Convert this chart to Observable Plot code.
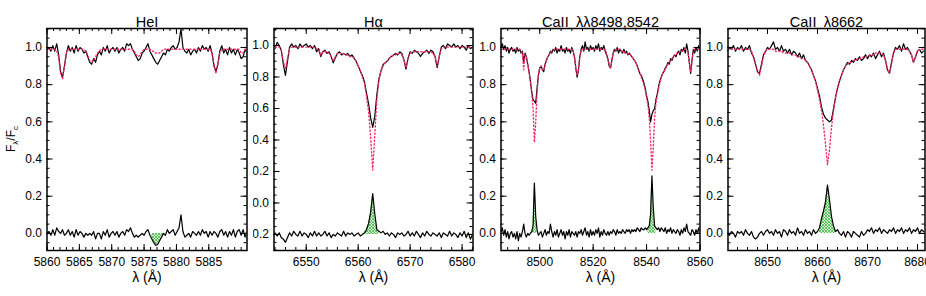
<!DOCTYPE html>
<html><head><meta charset="utf-8">
<script src="https://cdn.jsdelivr.net/npm/d3@7"></script>
<script src="https://cdn.jsdelivr.net/npm/@observablehq/plot@0.6"></script>
<style>
html,body{margin:0;padding:0;background:#fff;}
#chart{position:relative;width:926px;height:296px;overflow:hidden;background:#fff;}
</style></head><body><div id="chart"></div>
<script>
// ---------- Panel titles and tick labels ----------
const titles = ["HeI", "Hα", "CaII\u2002λλ8498,8542", "CaII\u2002λ8662"];
const xLabel = "λ (Å)";
const heXTicks = [5860, 5865, 5870, 5875, 5880, 5885];
const haXTicks = [6550, 6560, 6570, 6580];
const ca1XTicks = [8500, 8520, 8540, 8560];
const ca2XTicks = [8650, 8660, 8670, 8680];
const yTicksMain = [0.0, 0.2, 0.4, 0.6, 0.8, 1.0];
const yTicksHa = [-0.2, 0.0, 0.2, 0.4, 0.6, 0.8, 1.0];

// ---------- HeI (grid 5860.0 + 0.3*i) ----------
const heStart = 5860.0, heStep = 0.3;
const heObs = [
0.99,1.00,0.98,1.01,0.98,1.02,0.96,0.87,0.84,0.90,
0.97,1.01,0.98,1.00,0.97,1.01,0.98,1.00,0.99,0.97,
0.98,0.95,0.92,0.91,0.94,0.92,0.96,0.98,0.96,1.00,
0.98,1.01,0.97,0.99,1.00,0.98,1.00,0.97,0.99,1.00,
0.98,1.02,1.01,1.02,0.99,0.97,0.95,0.93,0.94,0.97,
0.98,1.00,1.02,0.98,0.96,0.94,0.92,0.91,0.93,0.95,
0.97,0.96,0.99,0.98,1.00,1.01,0.99,1.00,1.03,1.10,
1.00,0.98,0.97,0.99,0.96,0.98,0.99,0.97,1.00,0.98,
1.01,0.99,1.00,0.98,1.01,0.97,0.90,0.87,0.91,0.98,
1.01,0.97,0.99,0.96,1.00,0.97,0.99,0.96,0.99,0.97,
0.94,0.95,0.99,0.97];
const heSyn = [
0.99,0.99,0.99,0.99,0.99,0.98,0.95,0.86,0.83,0.90,
0.97,0.99,0.99,0.99,0.99,0.99,0.99,0.99,0.99,0.99,
0.98,0.96,0.93,0.92,0.93,0.95,0.97,0.98,0.99,0.99,
0.99,0.99,0.99,0.99,0.99,0.99,0.99,0.99,0.99,0.99,
0.99,0.99,0.99,0.99,0.99,0.98,0.96,0.95,0.96,0.98,
0.99,0.99,0.99,0.99,0.98,0.98,0.97,0.97,0.97,0.98,
0.99,0.99,0.99,0.99,0.99,0.99,0.99,0.99,0.99,0.99,
0.99,0.99,0.99,0.99,0.99,0.99,0.99,0.99,0.99,0.99,
0.99,0.99,0.99,0.99,0.99,0.97,0.91,0.86,0.91,0.97,
0.99,0.99,0.99,0.99,0.99,0.99,0.99,0.99,0.99,0.99,
0.97,0.97,0.99,0.99];
const heRes = [
0.00,0.01,-0.01,0.02,-0.01,0.03,0.01,0.00,0.02,-0.01,
0.00,0.02,-0.01,0.01,-0.02,0.02,-0.01,0.01,0.00,-0.02,
0.00,-0.01,0.00,-0.01,0.01,-0.03,0.00,0.00,-0.03,0.01,
-0.01,0.02,-0.02,0.00,0.01,-0.01,0.01,-0.02,0.00,0.01,
-0.01,0.02,0.01,0.03,0.00,-0.02,-0.01,-0.02,-0.01,0.00,
-0.01,0.01,0.02,-0.01,-0.03,-0.05,-0.065,-0.06,-0.04,-0.02,
0.00,-0.01,0.02,0.00,0.01,0.02,-0.01,0.01,0.03,0.10,
0.01,-0.02,-0.01,0.00,-0.02,0.01,0.00,-0.01,0.01,-0.01,
0.02,0.00,0.01,-0.02,0.01,-0.01,0.01,0.00,-0.02,0.01,
0.02,-0.01,0.01,-0.02,0.01,-0.01,0.02,-0.02,0.01,0.02,
-0.01,0.02,-0.02,0.01];
const heFill = [[5876.1, 5878.0]];

// ---------- H alpha (grid 6544.0 + 0.4*i) ----------
const haStart = 6544.0, haStep = 0.4;
const haObs = [
0.98,1.02,1.00,0.97,0.88,0.81,0.90,0.99,1.01,0.99,
1.00,0.98,1.01,0.99,1.00,1.01,0.99,1.00,0.98,1.00,
0.96,0.98,0.93,0.96,0.97,0.95,0.96,0.93,0.89,0.92,
0.95,0.96,0.94,0.95,0.94,0.95,0.93,0.94,0.92,0.90,
0.87,0.84,0.81,0.77,0.70,0.63,0.54,0.48,0.55,0.69,
0.79,0.84,0.88,0.89,0.90,0.92,0.93,0.94,0.95,0.94,
0.96,0.95,0.91,0.85,0.92,0.96,0.95,0.97,0.96,0.95,
0.93,0.95,0.96,0.97,0.95,0.97,0.96,0.93,0.86,0.93,
0.99,1.00,0.98,1.01,1.00,0.99,1.01,0.99,1.00,0.98,
1.00,0.99,0.97,1.00,0.98,0.99];
const haSyn = [
0.99,0.99,0.99,0.97,0.90,0.85,0.92,0.98,0.99,0.99,
0.99,0.99,0.99,0.99,0.99,0.99,0.99,0.99,0.99,0.99,
0.98,0.97,0.94,0.96,0.96,0.96,0.95,0.93,0.90,0.93,
0.95,0.95,0.95,0.95,0.94,0.94,0.93,0.93,0.92,0.90,
0.87,0.84,0.80,0.76,0.68,0.58,0.42,0.21,0.43,0.66,
0.78,0.84,0.87,0.89,0.90,0.92,0.93,0.94,0.94,0.95,
0.95,0.94,0.91,0.86,0.92,0.95,0.96,0.96,0.96,0.96,
0.96,0.96,0.96,0.96,0.96,0.96,0.95,0.93,0.87,0.93,
0.98,0.99,0.99,0.99,0.99,0.99,0.99,0.99,0.99,0.99,
0.99,0.99,0.99,0.99,0.99,0.99];
const haRes = [
0.01,-0.01,0.01,-0.02,-0.03,-0.05,-0.02,0.01,-0.01,0.02,
0.00,-0.01,0.02,-0.01,0.01,0.00,-0.02,0.01,-0.01,0.02,
-0.01,0.01,-0.01,0.00,0.02,-0.01,0.01,-0.02,0.00,-0.01,
0.01,0.00,-0.01,0.02,-0.01,0.01,0.00,0.01,-0.01,0.00,
0.01,-0.01,0.00,0.01,0.03,0.07,0.14,0.26,0.13,0.03,
0.02,0.01,0.02,0.00,0.01,-0.01,0.01,0.00,-0.02,0.01,
0.00,0.01,-0.01,0.00,0.02,-0.01,0.01,-0.01,0.02,0.00,
-0.02,0.01,-0.01,0.02,0.00,-0.01,0.01,0.00,-0.01,0.01,
-0.02,0.01,0.00,-0.01,0.02,-0.01,0.01,0.00,-0.02,0.01,
-0.01,0.02,-0.02,0.01,-0.03,0.00];
const haOffset = -0.2;
const haFill = [[6560.8, 6564.0]];

// ---------- CaII 8498, 8542 (grid 8485.5 + 0.5*i) ----------
const ca1Start = 8485.5, ca1Step = 0.5;
const ca1Obs = [
1.00,1.02,0.99,1.01,0.98,1.00,0.97,0.99,1.00,0.98,
0.99,0.97,1.00,0.98,0.99,0.97,0.98,0.92,0.97,0.95,
0.91,0.87,0.82,0.76,0.72,0.71,0.70,0.78,0.85,0.89,
0.90,0.88,0.87,0.91,0.93,0.95,0.96,0.98,0.97,0.99,
0.98,1.00,0.97,0.99,0.98,1.01,0.98,0.99,0.97,1.00,
0.98,0.99,0.97,1.00,0.98,0.95,0.89,0.84,0.88,0.95,
0.99,1.01,0.98,1.03,0.99,1.00,0.98,1.01,0.99,1.00,
0.98,1.01,0.99,1.02,0.98,1.00,0.99,1.01,0.98,0.96,
0.94,0.90,0.89,0.93,0.97,0.99,0.98,1.00,0.97,0.99,
0.98,0.97,0.99,0.97,0.98,0.96,0.97,0.96,0.95,0.94,
0.93,0.92,0.90,0.88,0.86,0.85,0.83,0.81,0.78,0.74,
0.71,0.66,0.60,0.64,0.66,0.67,0.72,0.75,0.79,0.82,
0.84,0.86,0.87,0.89,0.90,0.92,0.91,0.94,0.93,0.95,
0.96,0.95,0.97,0.98,0.96,0.99,0.98,1.00,0.97,1.02,
0.98,0.92,0.86,0.93,0.99,0.97,1.00,0.98,1.01,0.99];
const ca1Syn = [
0.99,0.99,0.99,0.99,0.99,0.99,0.99,0.99,0.99,0.99,
0.99,0.99,0.99,0.99,0.99,0.98,0.97,0.88,0.96,0.95,
0.91,0.87,0.82,0.76,0.67,0.49,0.60,0.76,0.85,0.89,
0.90,0.88,0.88,0.91,0.93,0.95,0.96,0.97,0.98,0.98,
0.99,0.99,0.99,0.99,0.99,0.99,0.99,0.99,0.99,0.99,
0.99,0.99,0.99,0.99,0.98,0.95,0.89,0.85,0.88,0.95,
0.98,0.99,0.99,0.99,0.99,0.99,0.99,0.99,0.99,0.99,
0.99,0.99,0.99,0.99,0.99,0.99,0.99,0.99,0.99,0.97,
0.94,0.91,0.89,0.93,0.97,0.98,0.99,0.99,0.99,0.99,
0.98,0.98,0.98,0.97,0.97,0.97,0.96,0.96,0.95,0.94,
0.93,0.92,0.90,0.88,0.86,0.84,0.82,0.80,0.77,0.73,
0.69,0.62,0.50,0.34,0.46,0.62,0.70,0.74,0.78,0.81,
0.84,0.86,0.87,0.88,0.90,0.91,0.92,0.93,0.94,0.95,
0.96,0.96,0.97,0.97,0.98,0.98,0.98,0.99,0.99,0.99,
0.97,0.92,0.87,0.93,0.98,0.99,0.99,0.99,0.99,0.99];
const ca1Res = [
0.01,0.03,-0.01,0.02,-0.02,0.01,-0.03,0.00,0.01,-0.02,
0.00,-0.03,0.01,-0.04,0.00,-0.02,0.01,0.05,0.00,-0.02,
0.00,-0.01,0.00,0.01,0.04,0.27,0.09,0.02,-0.01,0.00,
0.01,-0.02,0.00,0.02,-0.01,0.01,0.00,0.05,0.01,-0.02,
0.01,-0.01,0.02,-0.02,0.00,0.02,-0.01,0.01,-0.03,0.01,
-0.01,0.02,-0.02,0.01,0.00,-0.01,0.01,-0.02,0.01,0.00,
0.02,-0.01,0.01,0.03,-0.01,0.01,-0.02,0.02,-0.01,0.01,
-0.01,0.02,0.00,0.03,-0.02,0.01,-0.01,0.02,0.00,-0.01,
0.01,-0.01,0.01,0.00,0.02,0.01,-0.01,0.02,0.00,0.01,
0.00,0.02,0.01,0.00,0.02,0.01,0.02,0.00,0.02,0.01,
0.02,0.01,0.03,0.02,0.01,0.03,0.02,0.02,0.03,0.02,
0.03,0.04,0.10,0.31,0.14,0.04,0.03,0.02,0.03,0.01,
0.03,0.02,0.01,0.03,0.00,0.02,0.01,0.03,0.00,0.02,
0.01,0.00,0.02,0.01,-0.01,0.02,0.00,0.03,0.01,0.05,
0.01,0.00,-0.01,0.02,0.01,-0.01,0.02,0.00,0.03,-0.01];
const ca1Fill = [[8497.0, 8499.0], [8540.5, 8543.5]];

// ---------- CaII 8662 (grid 8642.0 + 0.4*i) ----------
const ca2Start = 8642.0, ca2Step = 0.4;
const ca2Obs = [
0.98,1.00,0.99,1.01,0.98,1.00,0.99,1.01,0.98,1.00,
0.99,1.01,0.97,0.95,0.91,0.87,0.86,0.91,0.96,0.98,
1.00,0.99,1.01,1.03,0.99,1.00,0.98,1.01,0.98,0.99,
0.97,0.99,0.96,0.98,0.97,0.95,0.97,0.94,0.96,0.93,
0.92,0.90,0.88,0.85,0.82,0.78,0.74,0.68,0.64,0.62,
0.61,0.60,0.61,0.67,0.73,0.78,0.82,0.85,0.88,0.90,
0.92,0.91,0.93,0.92,0.94,0.93,0.95,0.93,0.94,0.96,
0.94,0.96,0.95,0.97,0.94,0.96,0.98,0.95,0.97,0.93,
0.88,0.86,0.92,0.97,1.00,0.99,1.01,0.98,1.02,0.99,
1.00,0.98,0.96,0.92,0.95,0.98,0.99,0.97,0.98];
const ca2Syn = [
0.99,0.99,0.99,0.99,0.99,0.99,0.99,0.99,0.99,0.99,
0.99,0.99,0.98,0.95,0.91,0.87,0.85,0.90,0.95,0.98,
0.99,0.99,0.99,0.99,0.98,0.98,0.98,0.98,0.97,0.97,
0.97,0.97,0.96,0.96,0.96,0.95,0.95,0.94,0.94,0.93,
0.92,0.90,0.88,0.85,0.82,0.77,0.72,0.66,0.58,0.48,
0.37,0.45,0.57,0.66,0.73,0.78,0.82,0.85,0.88,0.90,
0.91,0.92,0.92,0.93,0.93,0.94,0.94,0.94,0.95,0.95,
0.95,0.96,0.96,0.96,0.97,0.97,0.97,0.97,0.96,0.93,
0.88,0.86,0.91,0.97,0.99,0.99,0.99,0.99,0.99,0.99,
0.99,0.98,0.96,0.92,0.95,0.98,0.99,0.99,0.99];
const ca2Res = [
0.00,-0.01,0.01,0.00,-0.02,0.01,0.00,0.01,-0.01,0.02,
0.00,-0.01,0.01,-0.02,-0.03,-0.02,0.00,0.01,-0.01,0.01,
0.02,0.00,0.01,-0.01,0.02,0.00,0.01,-0.02,0.02,0.01,
-0.01,0.02,0.00,0.01,-0.01,0.03,0.00,0.01,-0.01,0.02,
0.00,0.01,-0.01,0.02,0.00,0.01,0.03,0.08,0.12,0.17,
0.26,0.18,0.09,0.04,0.01,0.02,0.00,-0.01,0.01,-0.02,
0.01,0.00,-0.02,0.01,0.00,-0.01,-0.02,0.01,-0.01,0.00,
0.02,0.01,0.03,0.00,0.02,0.01,0.03,0.00,0.02,0.01,
0.00,0.02,0.01,0.03,0.00,0.02,0.01,0.03,0.00,0.02,
0.01,0.03,0.00,0.02,0.01,0.03,0.00,0.02,0.01];
const ca2Fill = [[8660.3, 8663.7]];

// ---------- Panel setup (layout) ----------
const panels = [
  {title: titles[0], start: heStart, step: heStep, obs: heObs, syn: heSyn, res: heRes, offset: 0, fill: heFill,
   xDomain: [5860, 5890.9], yDomain: [-0.092, 1.102], xTicks: heXTicks, xMinorStep: 1, yTicks: yTicksMain,
   left: 0, mL: 46.5, mR: 0.5, fw: 200, clip: false, ylabel: true},
  {title: titles[1], start: haStart, step: haStep, obs: haObs, syn: haSyn, res: haRes, offset: haOffset, fill: haFill,
   xDomain: [6543.8, 6582.1], yDomain: [-0.302, 1.108], xTicks: haXTicks, xMinorStep: 2, yTicks: yTicksHa,
   left: 253, mL: 20.5, mR: 4.5, fw: 199, clip: true},
  {title: titles[2], start: ca1Start, step: ca1Step, obs: ca1Obs, syn: ca1Syn, res: ca1Res, offset: 0, fill: ca1Fill,
   xDomain: [8485.5, 8560], yDomain: [-0.092, 1.102], xTicks: ca1XTicks, xMinorStep: 4, yTicks: yTicksMain,
   left: 473, mL: 27.5, mR: 0.5, fw: 199, clip: false},
  {title: titles[3], start: ca2Start, step: ca2Step, obs: ca2Obs, syn: ca2Syn, res: ca2Res, offset: 0, fill: ca2Fill,
   xDomain: [8642.1, 8681.5], yDomain: [-0.092, 1.102], xTicks: ca2XTicks, xMinorStep: 2, yTicks: yTicksMain,
   left: 700, mL: 27.5, mR: 1.5, fw: 197, clip: false}
];

const H = 296, MT = 28, MB = 46, FH = H - MT - MB;
const fmtY = d => (d < -1e-9 ? "\u2212" : "") + Math.abs(d).toFixed(1);
const chart = document.getElementById("chart");

panels.forEach((p, idx) => {
  const rows = (arr, off) => arr.map((v, i) => ({x: +(p.start + i * p.step).toFixed(3), y: v + off}));
  const obs = rows(p.obs, 0), syn = rows(p.syn, 0), res = rows(p.res, p.offset);
  const fills = p.fill.map(([a, b]) => res.filter(d => d.x >= a - 1e-6 && d.x <= b + 1e-6));
  const [x0, x1] = p.xDomain, [y0, y1] = p.yDomain;
  const xMinor = d3.range(Math.ceil(x0 / p.xMinorStep - 1e-9) * p.xMinorStep, x1 + 1e-9, p.xMinorStep);
  const yMinor = d3.range(Math.ceil(y0 / 0.05 - 1e-9) * 0.05, y1 + 1e-9, 0.05);
  const width = p.mL + p.fw + p.mR;
  const hatch = `hatch${idx}`;
  const svg = Plot.plot({
    width, height: H,
    marginLeft: p.mL, marginRight: p.mR, marginTop: MT, marginBottom: MB,
    x: {domain: p.xDomain},
    y: {domain: p.yDomain},
    style: {fontFamily: "'Liberation Sans', Arial, sans-serif", fontSize: "12px", color: "black",
            background: "transparent", overflow: p.clip ? "hidden" : "visible",
            position: "absolute", left: p.left + "px", top: "0px"},
    marks: [
      ...fills.map(f => Plot.areaY(f, {x: "x", y1: () => p.offset, y2: "y", fill: `url(#${hatch})`})),
      Plot.line(obs, {x: "x", y: "y", stroke: "black", strokeWidth: 1.2, strokeLinejoin: "round", clip: true}),
      Plot.line(res, {x: "x", y: "y", stroke: "black", strokeWidth: 1.2, strokeLinejoin: "round", clip: true}),
      Plot.line(syn, {x: "x", y: "y", stroke: "#ff2a6a", strokeWidth: 1.4, strokeDasharray: "1.2,2.4", clip: true}),
      // inward ticks on all four sides
      Plot.tickX(p.xTicks, {x: d => d, insetTop: FH - 6, stroke: "black"}),
      Plot.tickX(p.xTicks, {x: d => d, insetBottom: FH - 6, stroke: "black"}),
      Plot.tickX(xMinor, {x: d => d, insetTop: FH - 3, stroke: "black"}),
      Plot.tickX(xMinor, {x: d => d, insetBottom: FH - 3, stroke: "black"}),
      Plot.tickY(p.yTicks, {y: d => d, insetRight: p.fw - 6, stroke: "black"}),
      Plot.tickY(p.yTicks, {y: d => d, insetLeft: p.fw - 6, stroke: "black"}),
      Plot.tickY(yMinor, {y: d => d, insetRight: p.fw - 3, stroke: "black"}),
      Plot.tickY(yMinor, {y: d => d, insetLeft: p.fw - 3, stroke: "black"}),
      Plot.axisX({ticks: p.xTicks, anchor: "bottom", tickSize: 0, tickPadding: 7, tickFormat: d => String(d), label: null, fontSize: 12}),
      Plot.axisY({ticks: p.yTicks, anchor: "left", tickSize: 0, tickPadding: 5, tickFormat: fmtY, label: null, fontSize: 12}),
      Plot.frame({stroke: "black", strokeWidth: 1.5}),
      Plot.text([p.title], {text: d => d, frameAnchor: "top", dy: -12, fontSize: 14.5, fill: "black"}),
      Plot.text([xLabel], {text: d => d, frameAnchor: "bottom", dy: 31.5, fontSize: 14, fill: "black"})
    ]
  });
  const s = d3.select(svg);
  const pat = s.insert("defs", ":first-child").append("pattern")
    .attr("id", hatch).attr("patternUnits", "userSpaceOnUse").attr("width", 3).attr("height", 3);
  pat.append("rect").attr("width", 3).attr("height", 3).attr("fill", "#d4f4d4");
  pat.append("path").attr("d", "M0,0L3,3M3,0L0,3").attr("stroke", "#2fae2f").attr("stroke-width", 0.7);
  if (p.ylabel) {
    const t = s.append("text").attr("transform", "translate(15,139) rotate(-90)")
      .attr("text-anchor", "middle").attr("font-size", 12).attr("fill", "black");
    t.append("tspan").text("F");
    t.append("tspan").attr("font-size", 8).attr("dy", 3).text("λ");
    t.append("tspan").attr("dy", -3).text("/F");
    t.append("tspan").attr("font-size", 8).attr("dy", 3).text("c");
  }
  chart.appendChild(svg);
});
</script></body></html>
